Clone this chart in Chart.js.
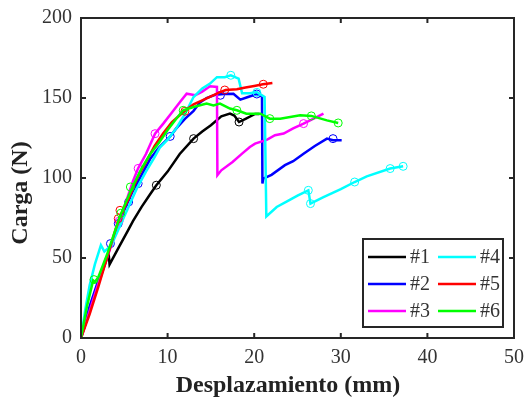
<!DOCTYPE html>
<html>
<head>
<meta charset="utf-8">
<script src="https://cdn.jsdelivr.net/npm/chart.js@4/dist/chart.umd.min.js"></script>
<style>
html,body{margin:0;padding:0;background:#fff;}
#wrap{width:527px;height:406px;}
</style>
</head>
<body>
<div id="wrap"><canvas id="c" width="527" height="406"></canvas></div>
<script>
// ---- Data ----
const seriesLabels = ['#1', '#2', '#3', '#4', '#5', '#6'];
const seriesColors = ['#000000', '#0000ff', '#ff00ff', '#00ffff', '#ff0000', '#00ff00'];

const s1x = [0, 1, 2, 3, 3.2, 3.3, 4.5, 5.4, 6, 7, 8, 8.7, 10, 11.4, 13, 14, 15, 16.2, 17.2, 17.7, 18.25, 19, 20.1, 20.6];
const s1y = [0, 17, 34, 50, 52, 46, 58, 67, 73, 82, 90, 95.5, 104, 115, 124.6, 129, 133, 138.5, 140.2, 139, 135, 137, 140, 140];

const s2x = [0, 1, 2, 3, 4, 5, 6, 7, 8, 9, 10.3, 11, 12, 13, 13.7, 14.5, 15.5, 16.5, 17.6, 18.4, 19.2, 20.3, 20.9, 20.95, 21.05, 22, 23.55, 24.5, 25.7, 27, 28.4, 29.1, 30.1];
const s2y = [0, 20, 36, 51, 66, 80, 92, 102, 112, 119, 126, 131, 137, 142, 147, 150, 152, 152.5, 152.7, 149, 150.5, 152.5, 151, 96.5, 99.6, 102, 108, 110.5, 115.2, 120, 124.6, 123.6, 123.6];

const s3x = [0, 1, 2, 3, 4, 5, 6, 6.6, 7.5, 8.55, 9.5, 10.5, 11.5, 12.2, 13.2, 14, 14.9, 15.7, 15.75, 16.2, 17.5, 18.6, 19.5, 20.1, 21.5, 22.4, 23.4, 24.5, 25.7, 26.8, 28];
const s3y = [0, 17, 34, 50, 66, 82, 98, 106, 115, 127.7, 134, 141, 148, 152.7, 151.7, 154, 157.3, 156.9, 101.7, 104.8, 110, 115.2, 119.4, 121.5, 124, 126.7, 127.8, 131, 134, 137, 140.2];

const s4x = [0, 0.5, 1, 1.6, 2.3, 2.7, 3.5, 4.5, 5.5, 6.5, 7.5, 8.5, 9.1, 10, 11, 12, 13, 14, 14.9, 15.7, 16.6, 17.3, 18.2, 18.6, 19.5, 20.3, 21.2, 21.4, 22.6, 24, 25, 26.25, 26.5, 28, 30, 31.6, 33, 35.7, 37.2];
const s4y = [0, 18, 33, 46, 58, 54, 58, 70, 82, 94, 104, 113, 119, 124, 131, 140, 150.6, 156, 159, 163, 163, 164.2, 162.1, 153, 153, 153.7, 150.6, 76, 81.9, 86, 89, 92.3, 84, 88, 93, 97.5, 101, 105.9, 107.3];

const s5x = [0, 1, 2, 3, 4, 4.5, 5.5, 6.5, 7.5, 8.5, 9.5, 10.5, 12, 13, 14, 15, 16, 16.7, 18, 19, 20, 21, 22.1];
const s5y = [0, 15, 32, 50, 68, 76, 87, 100, 110, 120, 128, 135, 142, 146, 148.5, 151, 153.5, 155, 155.5, 156.5, 157.5, 158.6, 159.4];

const s6x = [0, 0.7, 1.4, 1.6, 2, 3, 4, 4.5, 5.2, 6, 7, 8, 9, 10, 11, 11.8, 13, 14.5, 15.3, 16.05, 17.2, 18, 19.1, 20.7, 21.8, 23, 25.3, 26.6, 28.4, 29.7];
const s6y = [0, 20, 36, 35, 38, 52, 68, 76, 85, 95, 106, 115, 122, 130, 137, 142.3, 144.4, 146.5, 145.4, 146.5, 143.4, 142.3, 140.2, 140.2, 137.1, 137.1, 139.2, 138.8, 136, 134.4];

// circle markers (positions)
const m1x = [8.7, 13, 18.25];
const m1y = [95.5, 124.6, 135];
const m2x = [3.4, 4.3, 5.5, 6.6, 10.3, 16.1, 20.3, 29.1];
const m2y = [59, 71.5, 85, 96.5, 126, 151.7, 152.5, 124.6];
const m3x = [4.4, 6.6, 8.55, 25.7];
const m3y = [73, 106, 127.7, 134];
const m4x = [17.3, 20.3, 26.25, 26.5, 31.6, 35.7, 37.2];
const m4y = [164.2, 153.5, 92.3, 84, 97.5, 105.9, 107.3];
const m5x = [4.3, 4.5, 12, 16.6, 21.05];
const m5y = [74.6, 79.8, 141.7, 155, 158.6];
const m6x = [1.5, 4.6, 5.7, 11.8, 18, 21.8, 26.6, 29.7];
const m6y = [36.5, 78, 94.4, 142.3, 142.3, 137.1, 138.8, 134.4];

const xTicks = [0, 10, 20, 30, 40, 50];
const yTicks = [0, 50, 100, 150, 200];
const xTitle = 'Desplazamiento (mm)';
const yTitle = 'Carga (N)';

// ---- build datasets ----
const lineX = [s1x, s2x, s3x, s4x, s5x, s6x];
const lineY = [s1y, s2y, s3y, s4y, s5y, s6y];
const markX = [m1x, m2x, m3x, m4x, m5x, m6x];
const markY = [m1y, m2y, m3y, m4y, m5y, m6y];
const zip = (xs, ys) => xs.map((x, i) => ({x: x, y: ys[i]}));

const datasets = [];
for (let i = 0; i < 6; i++) {
  datasets.push({
    label: seriesLabels[i],
    data: zip(lineX[i], lineY[i]),
    showLine: true,
    borderColor: seriesColors[i],
    backgroundColor: seriesColors[i],
    borderWidth: 2.5,
    pointRadius: 0,
    tension: 0,
    order: 20 - 2 * i
  });
  datasets.push({
    label: seriesLabels[i] + 'm',
    data: zip(markX[i], markY[i]),
    showLine: false,
    borderColor: seriesColors[i],
    backgroundColor: 'rgba(0,0,0,0)',
    borderWidth: 1,
    pointRadius: 4,
    pointStyle: 'circle',
    order: 19 - 2 * i
  });
}

const FONT = "'Liberation Serif', 'Times New Roman', serif";
const AXC = '#262626';

const frame = {
  id: 'frame',
  afterDraw(chart) {
    const ctx = chart.ctx;
    const a = chart.chartArea;
    const xs = chart.scales.x, ys = chart.scales.y;
    ctx.save();
    ctx.strokeStyle = AXC;
    ctx.lineWidth = 2;
    ctx.strokeRect(a.left, a.top, a.right - a.left, a.bottom - a.top);
    const tl = 5;
    xTicks.forEach(v => {
      const p = xs.getPixelForValue(v);
      ctx.beginPath();
      ctx.moveTo(p, a.bottom); ctx.lineTo(p, a.bottom - tl);
      ctx.moveTo(p, a.top); ctx.lineTo(p, a.top + tl);
      ctx.stroke();
    });
    yTicks.forEach(v => {
      const p = ys.getPixelForValue(v);
      ctx.beginPath();
      ctx.moveTo(a.left, p); ctx.lineTo(a.left + tl, p);
      ctx.moveTo(a.right, p); ctx.lineTo(a.right - tl, p);
      ctx.stroke();
    });
    // axis titles
    ctx.fillStyle = '#222';
    ctx.font = 'bold 24px ' + FONT;
    ctx.textAlign = 'center';
    ctx.textBaseline = 'middle';
    ctx.fillText(xTitle, 288, 386);
    ctx.save();
    ctx.translate(21, 193);
    ctx.rotate(-Math.PI / 2);
    ctx.font = 'bold 24px ' + FONT;
    ctx.fillText(yTitle, 0, 0);
    ctx.restore();
    // legend (two columns, three rows)
    const bx = 363, by = 239, bw = 140, bh = 88;
    ctx.fillStyle = '#fff';
    ctx.fillRect(bx, by, bw, bh);
    ctx.lineWidth = 2;
    ctx.strokeStyle = AXC;
    ctx.strokeRect(bx, by, bw, bh);
    ctx.font = '20px ' + FONT;
    ctx.textBaseline = 'middle';
    ctx.textAlign = 'left';
    for (let i = 0; i < 6; i++) {
      const col = Math.floor(i / 3), row = i % 3;
      const lx = bx + 5 + col * 70;
      const ly = by + 18 + row * 27;
      ctx.strokeStyle = seriesColors[i];
      ctx.lineWidth = 2.5;
      ctx.beginPath();
      ctx.moveTo(lx, ly); ctx.lineTo(lx + 38, ly);
      ctx.stroke();
      ctx.fillStyle = '#333';
      ctx.fillText(seriesLabels[i], lx + 42, ly + 1);
    }
    ctx.restore();
  }
};

new Chart(document.getElementById('c'), {
  type: 'scatter',
  data: { datasets: datasets },
  options: {
    responsive: false,
    animation: false,
    layout: { padding: { top: 18, right: 13, left: 0, bottom: 0 } },
    plugins: { legend: { display: false }, tooltip: { enabled: false } },
    scales: {
      x: {
        type: 'linear', min: 0, max: 50,
        afterBuildTicks: s => { s.ticks = xTicks.map(v => ({value: v})); },
        afterFit: s => { s.height = 68; s.paddingRight = 0; s.paddingLeft = 0; },
        grid: { display: false, drawTicks: false },
        border: { display: false },
        ticks: { color: '#333', font: { family: FONT, size: 20 }, padding: 8, maxRotation: 0 },
        title: { display: false }
      },
      y: {
        type: 'linear', min: 0, max: 200,
        afterBuildTicks: s => { s.ticks = yTicks.map(v => ({value: v})); },
        afterFit: s => { s.width = 81; s.paddingTop = 0; s.paddingBottom = 0; },
        grid: { display: false, drawTicks: false },
        border: { display: false },
        ticks: { color: '#333', font: { family: FONT, size: 20 }, padding: 9 },
        title: { display: false }
      }
    }
  },
  plugins: [frame]
});
</script>
</body>
</html>
